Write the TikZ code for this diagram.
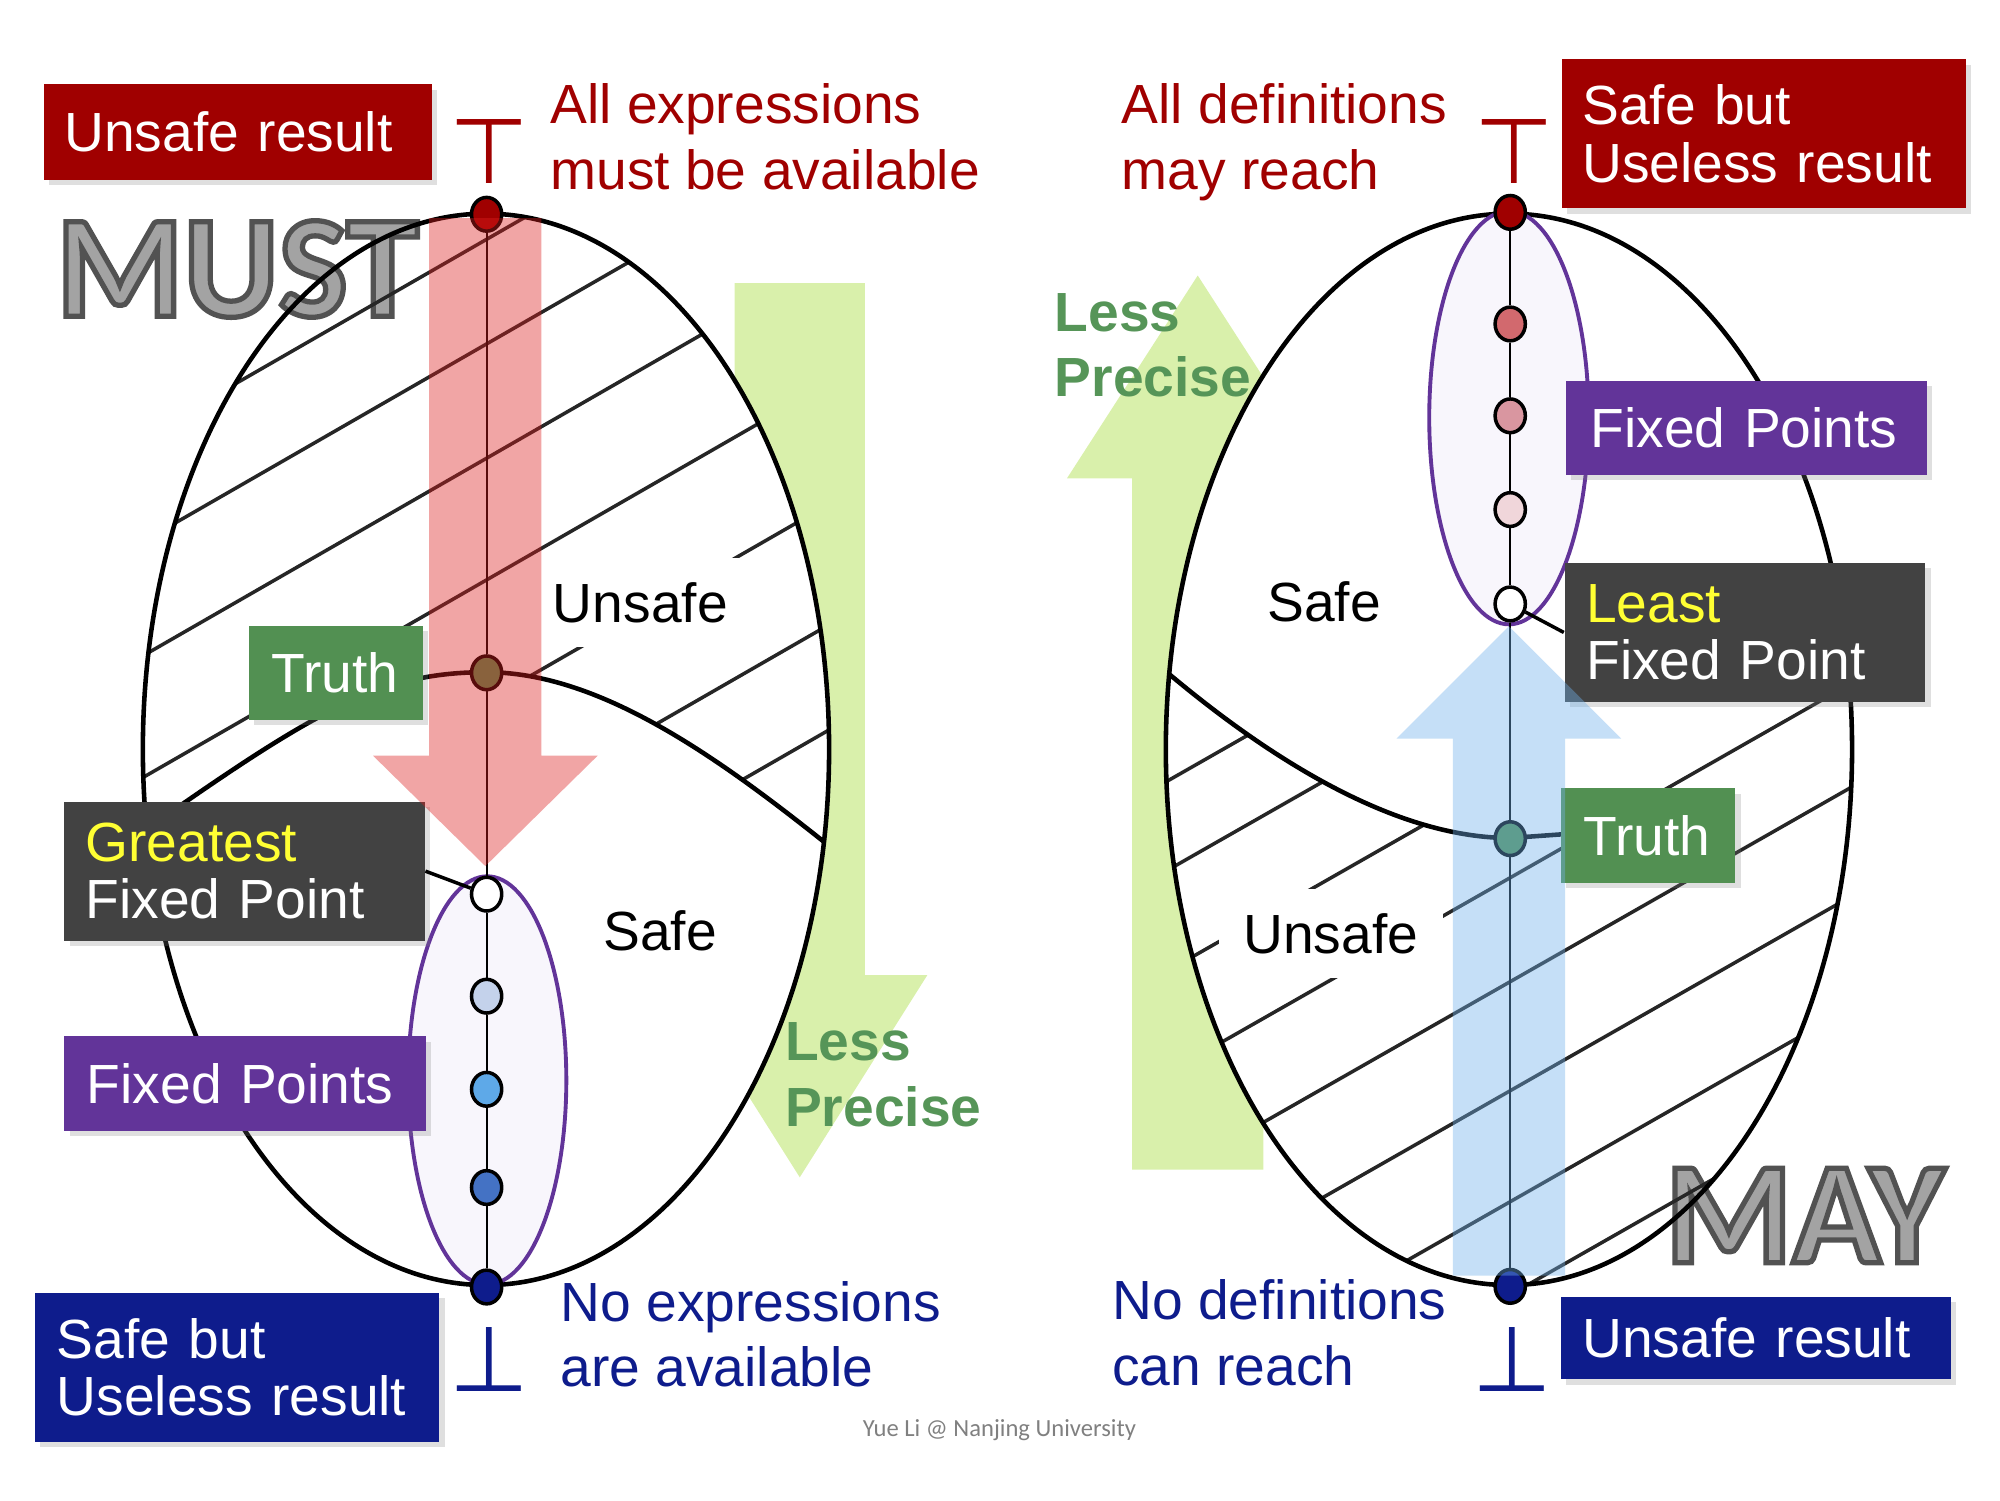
\documentclass[tikz,border=0pt]{standalone}
\usepackage{fontspec}
\setmainfont{Liberation Sans}
\newfontfamily\calibri{Carlito}
\newfontfamily\tackfont{DejaVu Sans}
\usetikzlibrary{shapes.geometric,shadows}

\definecolor{darkred}{RGB}{160,0,0}
\definecolor{navy}{RGB}{14,28,140}
\definecolor{truthgreen}{RGB}{82,144,82}
\definecolor{lessgreen}{RGB}{86,149,88}
\definecolor{fppurple}{RGB}{98,52,153}
\definecolor{fixgrey}{RGB}{66,66,66}
\definecolor{fixyellow}{RGB}{255,255,51}
\definecolor{palegreen}{RGB}{217,240,171}
\definecolor{lavender}{RGB}{248,246,252}
\definecolor{downred}{RGB}{220,30,30}
\definecolor{upblue}{RGB}{112,177,235}
\definecolor{mustdotA}{RGB}{196,210,235}
\definecolor{mustdotB}{RGB}{94,169,232}
\definecolor{mustdotC}{RGB}{68,114,196}
\definecolor{maydotA}{RGB}{210,105,110}
\definecolor{maydotB}{RGB}{217,150,160}
\definecolor{maydotC}{RGB}{240,214,218}

\newcommand\boxsize{\fontsize{15.7}{16.3}\selectfont}
\newcommand\notesize{\fontsize{15.7}{18.7}\selectfont}
% filled and stroked letters
\newcommand\outlined[1]{\special{pdf:literal direct 2 Tr 1.5 w 0.32 0.32 0.32 RG}#1\special{pdf:literal direct 0 Tr}}

\begin{document}
\begin{tikzpicture}
    [%%%%%%%%%%%%%%%%%%%%%%%%%%%%%%%%%%%%%%%%%%%%%%%%%%%%%%%%%%
        x=0.36292pt,y=-0.36292pt,
        box/.style={rectangle,anchor=north west,inner ysep=0pt,align=left,
                    text=white,font=\boxsize,
                    drop shadow={opacity=.25,shadow xshift=1.5pt,shadow yshift=-1.5pt}},
        note/.style={anchor=north west,inner sep=0pt,align=left,font=\notesize},
        dot/.style={ellipse,draw=black,line width=1pt,inner sep=0pt,
                    minimum width=8.6pt,minimum height=9.6pt},
        rim/.style={line width=1.3pt},
        hatch/.style={line width=1pt,black!85},
        fpset/.style={draw=fppurple,fill=lavender,line width=1.1pt},
        tack/.style={font=\tackfont\fontsize{26}{26}\selectfont,inner sep=0pt},
        word/.style={font=\calibri\bfseries\fontsize{41.5}{44}\selectfont,
                     inner sep=0pt,anchor=base,text=black!36}
    ]%%%%%%%%%%%%%%%%%%%%%%%%%%%%%%%%%%%%%%%%%%%%%%%%%%%%%%%%%%
    \useasboundingbox (0,0) rectangle (1568,1176);

    % less precise arrows
    \fill[palegreen] (576,222) -- (678,222) -- (678,764.5) -- (727,764.5) -- (627,923)
        -- (527,764.5) -- (576,764.5) -- cycle;
    \fill[palegreen] (887.5,917) -- (990.5,917) -- (990.5,375) -- (1041.5,375) -- (939,216)
        -- (836.5,375) -- (887.5,375) -- cycle;

    \fill[white] (381,587.5) ellipse [x radius=269, y radius=420];
    \fill[white] (1183,587.5) ellipse [x radius=269, y radius=420];

    % MUST / MAY
    \node[word] (mustWord) at (186,248) {\outlined{MUST}};
    \node[word] (mayWord) at (1415,990) {\outlined{MAY}};

    % unsafe regions
    \begin{scope}
        \clip (381,587.5) ellipse [x radius=269, y radius=420];
        \clip (90,150) -- (90,655) -- (115,650) .. controls (250,555) and (300,527) .. (381,527)
            .. controls (468,527) and (558,590) .. (646,660) -- (670,680) -- (670,150) -- cycle;
        \foreach \c in {407,489,578.6,674,769,863.5,946}
            \draw[hatch] (90,{\c-51.75}) -- (670,{\c-385.25});
    \end{scope}
    \begin{scope}
        \clip (1183,587.5) ellipse [x radius=269, y radius=420];
        \clip (900,516) -- (916,528) .. controls (990,590) and (1090,657) .. (1184,657)
            -- (1223,656) -- (1470,512) -- (1470,1030) -- (900,1030) -- cycle;
        \foreach \c in {1134,1204,1283,1363,1444.5,1530,1617,1690}
            \draw[hatch] (880,{\c-501.6}) -- (1480,{\c-843.6});
    \end{scope}

    \node[font=\notesize,fill=white,inner xsep=3.6pt,inner ysep=6.9pt,anchor=base]
        (unsafeMust) at (502,488) {Unsafe};
    \node[font=\notesize,fill=white,inner xsep=7pt,inner ysep=6.9pt,anchor=base]
        (unsafeMay) at (1043.3,747.6) {Unsafe};
    \node[font=\notesize,inner sep=0pt,anchor=base west] (safeMust) at (472.5,744.8) {Safe};
    \node[font=\notesize,inner sep=0pt,anchor=base west] (safeMay) at (993,487.2) {Safe};

    \draw[rim] (381,587.5) ellipse [x radius=269, y radius=420];
    \draw[rim] (1183,587.5) ellipse [x radius=269, y radius=420];
    \draw[rim] (115,650) .. controls (250,555) and (300,527) .. (381,527)
        .. controls (468,527) and (558,590) .. (646,660);
    \draw[rim] (916,528) .. controls (990,590) and (1090,657) .. (1184,657) -- (1240,653);

    \draw[fpset] (382,847) ellipse [x radius=62, y radius=160];
    \draw[fpset] (1183,327.5) ellipse [x radius=62.5, y radius=162];

    % lattice chains
    \node[dot,fill=darkred] (mTop) at (381.5,168) {};
    \node[dot,fill=truthgreen] (mTruth) at (381.5,527.5) {};
    \node[dot,fill=white] (mGfp) at (381.5,701) {};
    \node[dot,fill=mustdotA] (m2) at (381.5,781) {};
    \node[dot,fill=mustdotB] (m3) at (381.5,854) {};
    \node[dot,fill=mustdotC] (m4) at (381.5,931) {};
    \node[dot,fill=navy] (mBot) at (381.5,1009) {};
    \foreach \a/\b in {mTop/mTruth,mTruth/mGfp,mGfp/m2,m2/m3,m3/m4,m4/mBot}
        \draw[line width=.6pt] (\a) -- (\b);

    \node[dot,fill=darkred] (yTop) at (1184,166.5) {};
    \node[dot,fill=maydotA] (y2) at (1184,254) {};
    \node[dot,fill=maydotB] (y3) at (1184,326) {};
    \node[dot,fill=maydotC] (y4) at (1184,399.5) {};
    \node[dot,fill=white] (yLfp) at (1184,473.5) {};
    \node[dot,fill=truthgreen] (yTruth) at (1184,657.5) {};
    \node[dot,fill=navy] (yBot) at (1184,1008.5) {};
    \foreach \a/\b in {yTop/y2,y2/y3,y3/y4,y4/yLfp,yLfp/yTruth,yTruth/yBot}
        \draw[line width=.6pt] (\a) -- (\b);

    % labels
    \node[box,fill=darkred,minimum height=27.3pt,text width=98.7pt,inner xsep=5.8pt]
        (unsafeTop) at (34,65.5) {Unsafe result};
    \node[box,fill=navy,minimum height=42.4pt,text width=102.5pt,inner xsep=6.35pt]
        (uselessBot) at (26.5,1012.8) {Safe but\\Useless result};
    \node[box,fill=truthgreen,minimum height=26.8pt,text width=36.7pt,inner xsep=6.4pt]
        (truthMust) at (194.7,490) {Truth};
    \node[box,fill=fixgrey,minimum height=39.5pt,text width=90.5pt,inner xsep=6pt]
        (gfpMust) at (50,628) {\textcolor{fixyellow}{Greatest}\\Fixed Point};
    \node[box,fill=fppurple,minimum height=26.9pt,text width=90.2pt,inner xsep=6.35pt]
        (fpMust) at (50,812) {Fixed Points};

    \node[box,fill=darkred,minimum height=42.4pt,text width=103.4pt,inner xsep=5.8pt]
        (uselessTop) at (1224,46) {Safe but\\Useless result};
    \node[box,fill=fppurple,minimum height=26.7pt,text width=88.5pt,inner xsep=7.1pt]
        (fpMay) at (1227,298) {Fixed Points};
    \node[box,fill=fixgrey,minimum height=39.4pt,text width=90.3pt,inner xsep=6.2pt]
        (lfpMay) at (1226,441) {\textcolor{fixyellow}{Least}\\Fixed Point};
    \node[box,fill=truthgreen,minimum height=26.8pt,text width=36.7pt,inner xsep=6.5pt]
        (truthMay) at (1223,617.6) {Truth};
    \node[box,fill=navy,minimum height=23.5pt,text width=98.7pt,inner xsep=6.2pt]
        (unsafeBot) at (1223,1016) {Unsafe result};

    \draw[line width=1pt] (gfpMust.east) -- (mGfp);
    \draw[line width=1pt] (yLfp) -- (lfpMay.west);

    % iteration directions
    \fill[downred,opacity=.4] (336.5,171) -- (424.5,171) -- (424.5,592.5) -- (468.5,592.5)
        -- (380.5,679) -- (292.5,592.5) -- (336.5,592.5) -- cycle;
    \fill[upblue,opacity=.4] (1139,1000) -- (1227,1000) -- (1227,579) -- (1271,579)
        -- (1183,491) -- (1095,579) -- (1139,579) -- cycle;

    \node[tack,text=darkred] (topMust) at (383.5,119) {⊤};
    \node[tack,text=darkred] (topMay) at (1187,119) {⊤};
    \node[tack,text=navy] (botMust) at (383.5,1065.5) {⊥};
    \node[tack,text=navy] (botMay) at (1186,1065.5) {⊥};

    \node[note,text=darkred] (allMust) at (431,64.9) {All expressions\\must be available};
    \node[note,text=darkred] (allMay) at (879,65.3) {All definitions\\may reach};
    \node[note,text=navy] (noMust) at (439,1003.8) {No expressions\\are available};
    \node[note,text=navy] (noMay) at (871.5,1002.6) {No definitions\\can reach};
    \node[note,text=lessgreen,font=\notesize\bfseries] (lessMust) at (615,801) {Less\\Precise};
    \node[note,text=lessgreen,font=\notesize\bfseries] (lessMay) at (826.4,229.3) {Less\\Precise};

    \node[font=\calibri\fontsize{7}{8}\selectfont,text=black!50] (credit) at (783.5,1121)
        {Yue Li @ Nanjing University};
\end{tikzpicture}
\end{document}
